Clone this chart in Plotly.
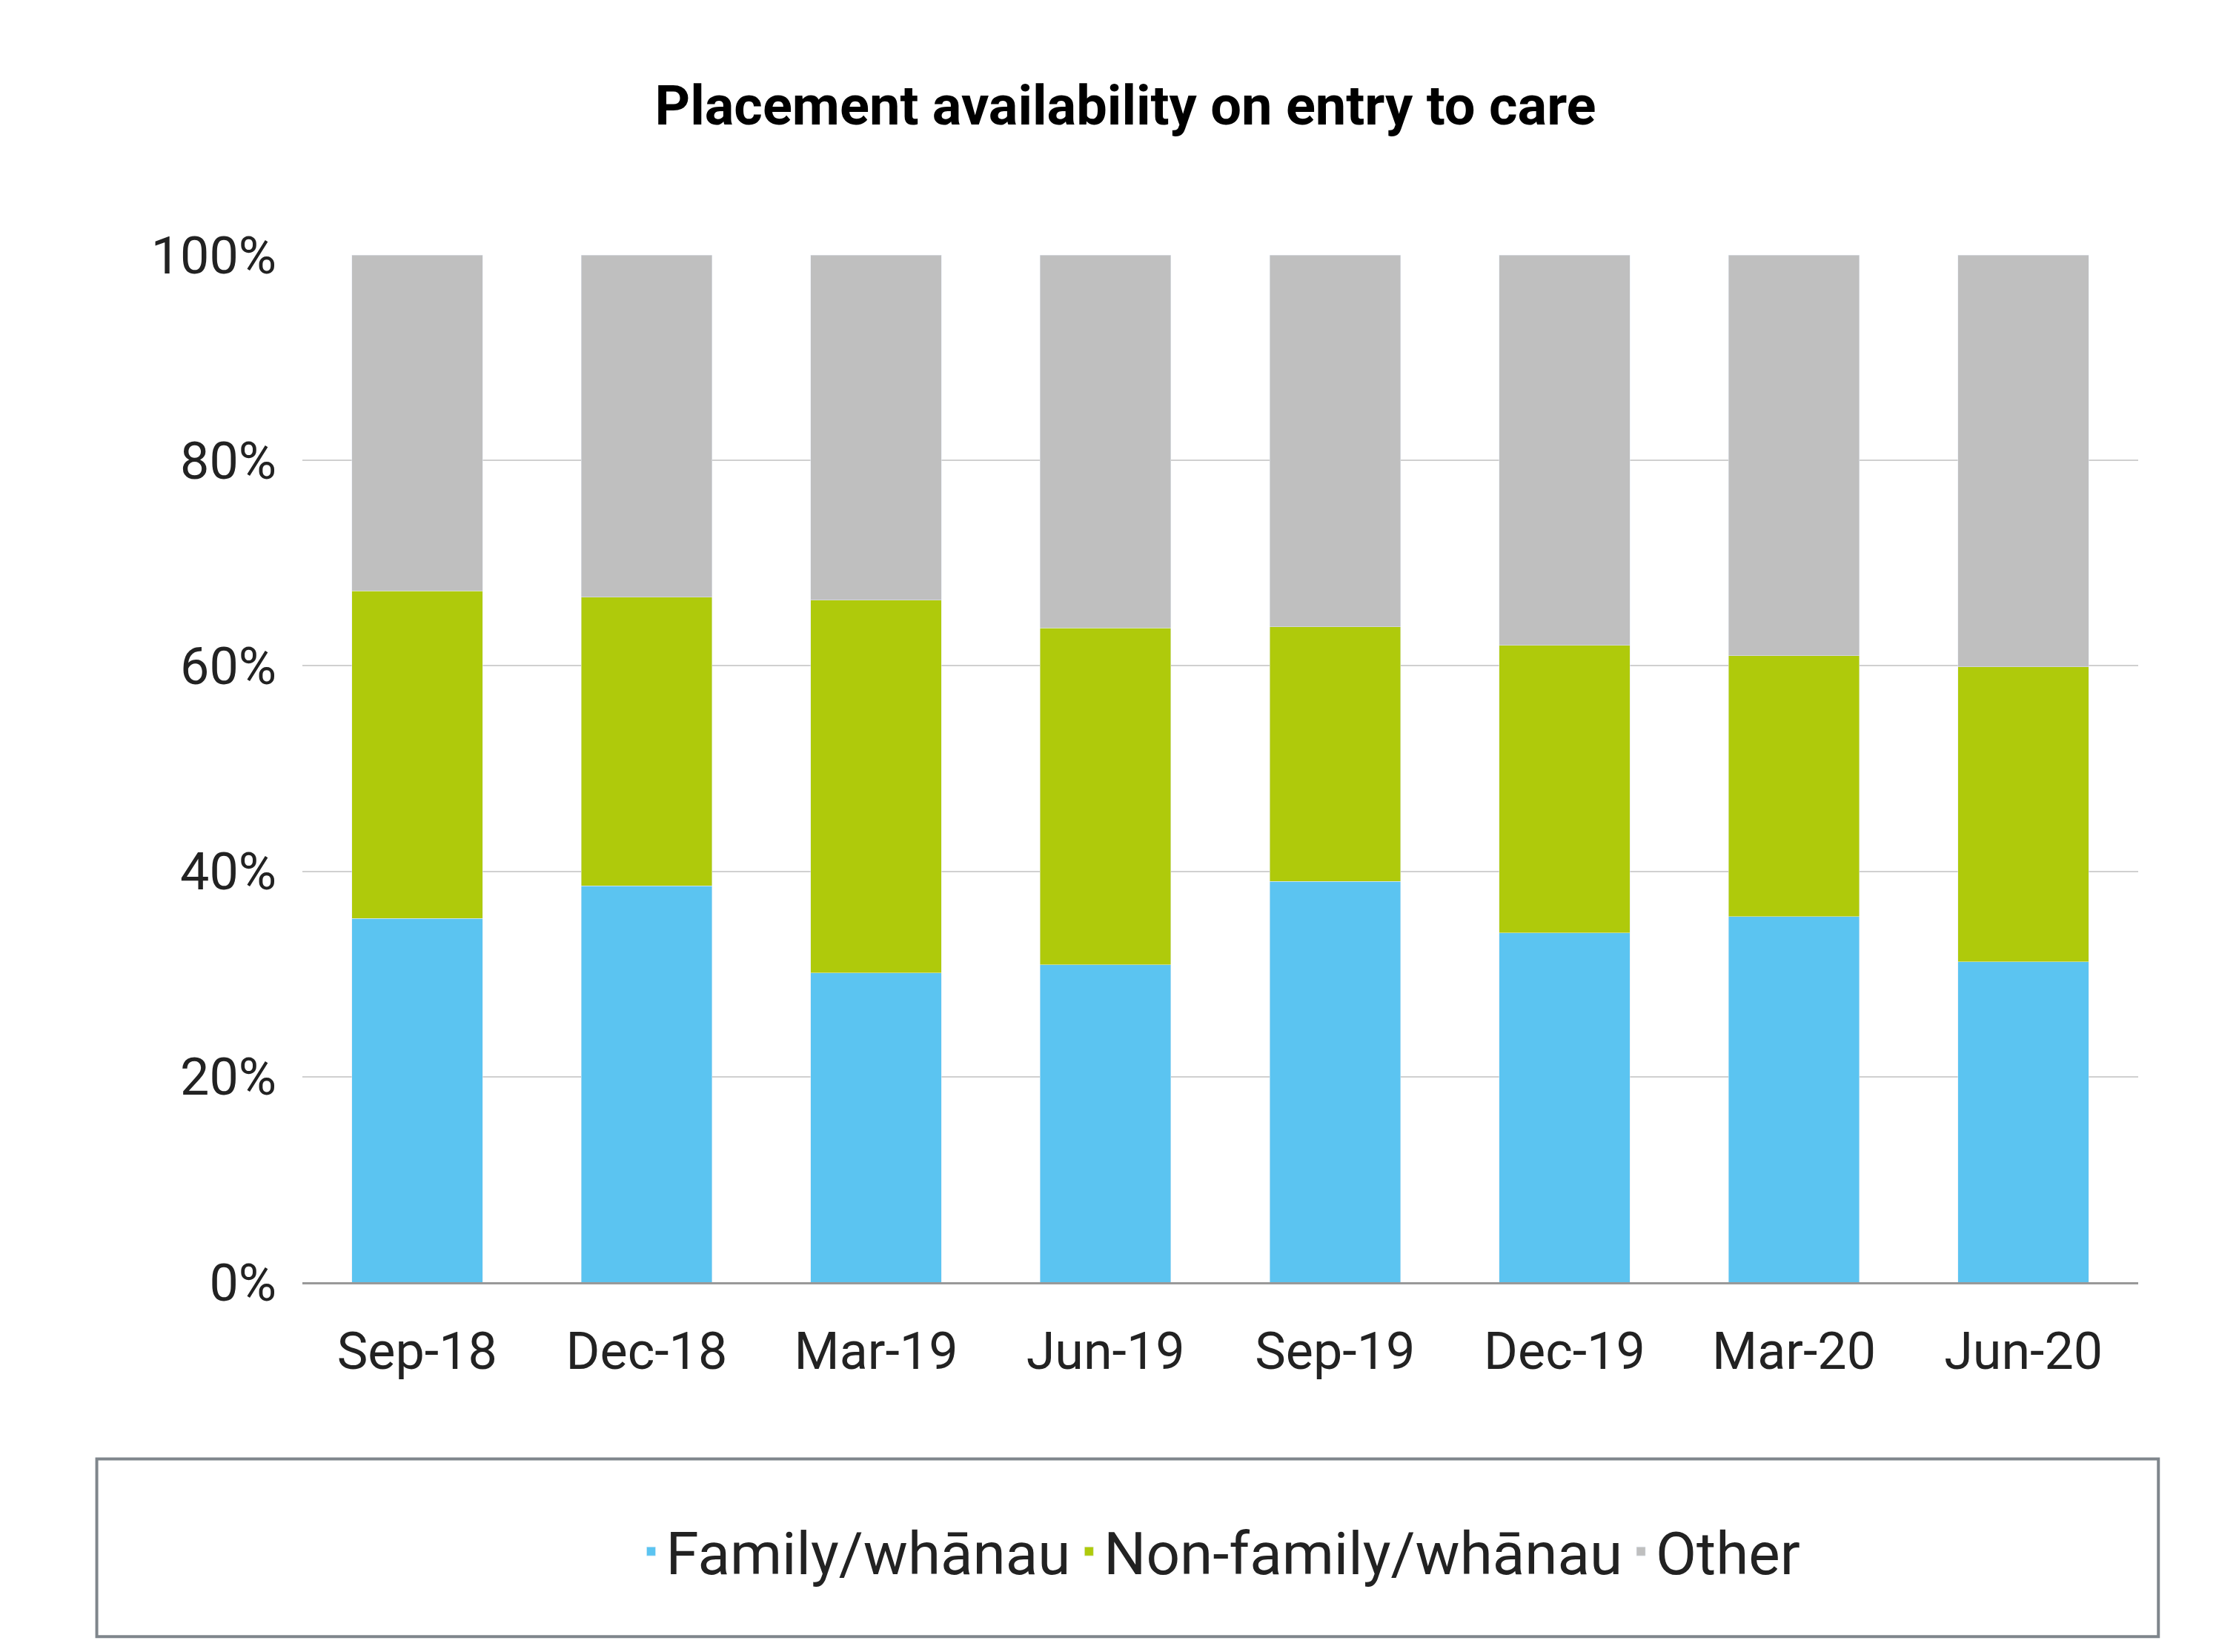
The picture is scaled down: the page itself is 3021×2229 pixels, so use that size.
import plotly.graph_objects as go

quarters = ["Sep-18", "Dec-18", "Mar-19", "Jun-19", "Sep-19", "Dec-19", "Mar-20", "Jun-20"]
family = [35.4, 38.6, 30.1, 30.9, 39.0, 34.0, 35.6, 31.2]
non_family = [31.9, 28.1, 36.3, 32.8, 24.8, 28.0, 25.4, 28.7]
other = [32.7, 33.3, 33.6, 36.3, 36.2, 38.0, 39.0, 40.1]
y_ticks = [0, 20, 40, 60, 80, 100]
y_labels = [f"{v}%" for v in y_ticks]

fig = go.Figure()
fig.add_trace(go.Bar(x=quarters, y=family, name="Family/whānau", marker_color="#5BC4F1"))
fig.add_trace(go.Bar(x=quarters, y=non_family, name="Non-family/whānau", marker_color="#AFCA0B"))
fig.add_trace(go.Bar(x=quarters, y=other, name="Other", marker_color="#BFBFBF"))

fig.update_layout(
    barmode="stack",
    bargap=0.43,
    width=3021,
    height=2229,
    margin=dict(l=400, r=144, t=336, b=507),
    paper_bgcolor="white",
    plot_bgcolor="white",
    font=dict(family="Roboto", size=70, color="#222222"),
    title=dict(text="<b>Placement availability on entry to care</b>", x=0.5, xanchor="center",
               y=0.94, yanchor="middle", font=dict(size=74, color="black")),
    legend=dict(orientation="h", x=0.5, xanchor="center", y=-0.262, yanchor="middle",
                font=dict(size=80), traceorder="normal"),
    shapes=[dict(type="rect", xref="paper", yref="paper", x0=-0.112, x1=1.011, y0=-0.172, y1=-0.345,
                 line=dict(color="#7F868C", width=4))],
)
fig.update_yaxes(range=[0, 100], tickvals=y_ticks, ticktext=y_labels,
                 gridcolor="#D0D0D0", gridwidth=2, zeroline=False, ticks="outside",
                 ticklen=20, tickcolor="white")
fig.update_xaxes(showline=True, linecolor="#999999", linewidth=3, ticks="outside", ticklen=30,
                 tickcolor="white")

fig.write_html("out.html")
